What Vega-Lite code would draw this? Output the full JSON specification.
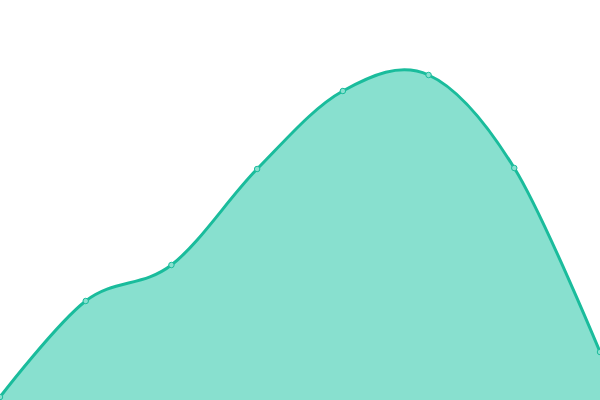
{
  "$schema": "https://vega.github.io/schema/vega-lite/v6.json",
  "width": 600,
  "height": 400,
  "padding": 0,
  "autosize": {"type": "none"},
  "config": {"view": {"stroke": null}},
  "data": {
    "values": [
      {"i": 0, "v": 3},
      {"i": 1, "v": 99},
      {"i": 2, "v": 135},
      {"i": 3, "v": 231},
      {"i": 4, "v": 309},
      {"i": 5, "v": 325},
      {"i": 6, "v": 232},
      {"i": 7, "v": 48}
    ]
  },
  "encoding": {
    "x": {"field": "i", "type": "quantitative", "axis": null, "scale": {"domain": [0, 7], "nice": false}},
    "y": {"field": "v", "type": "quantitative", "axis": null, "scale": {"domain": [0, 400], "nice": false}}
  },
  "layer": [
    {
      "mark": {"type": "area", "interpolate": "cardinal", "color": "#88e0cf", "opacity": 1}
    },
    {
      "mark": {"type": "line", "interpolate": "cardinal", "color": "#1abc9c", "strokeWidth": 3}
    },
    {
      "mark": {"type": "point", "filled": true, "fill": "#88e0cf", "stroke": "#1abc9c", "strokeWidth": 1, "size": 30, "opacity": 1}
    }
  ]
}
